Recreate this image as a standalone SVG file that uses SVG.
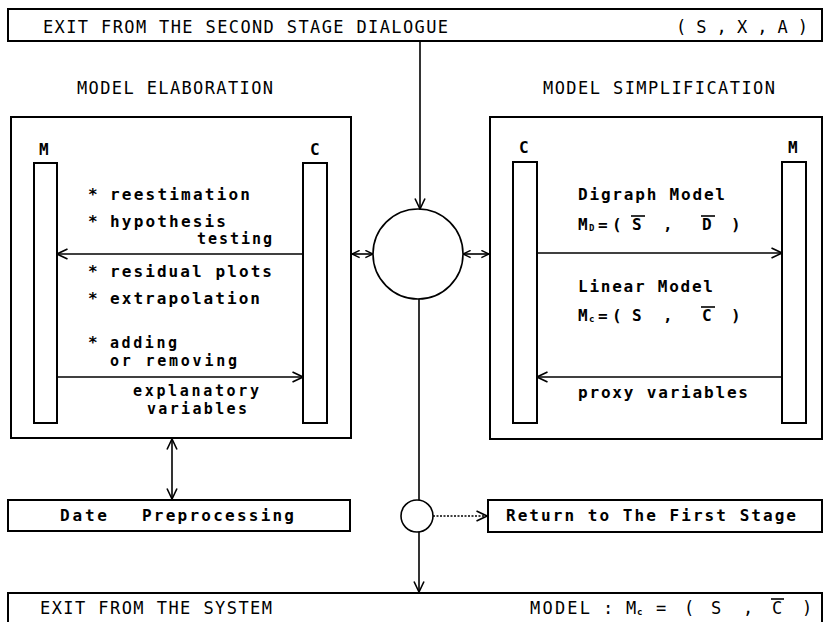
<svg xmlns="http://www.w3.org/2000/svg" width="827" height="622" viewBox="0 0 827 622">
<defs>
<style>
.box{fill:#fff;stroke:#000;stroke-width:2}
.bar{fill:#fff;stroke:#000;stroke-width:2}
.ln{fill:none;stroke:#000;stroke-width:1.6}
.t{font-family:"DejaVu Sans Mono","Liberation Mono",monospace;font-size:17px;fill:#000}
.b{font-family:"DejaVu Sans Mono","Liberation Mono",monospace;font-size:16px;font-weight:bold;fill:#000}
.bs{font-family:"DejaVu Sans Mono","Liberation Mono",monospace;font-size:15px;font-weight:bold;fill:#000}
.s{font-family:"DejaVu Sans Mono","Liberation Mono",monospace;font-size:9px;font-weight:bold;fill:#000}
.ov{stroke:#000;stroke-width:1.6}
</style>
<marker id="ah" viewBox="0 0 12 12" refX="11.5" refY="6" markerWidth="12" markerHeight="12" markerUnits="userSpaceOnUse" orient="auto-start-reverse">
<path d="M1,1 L11.5,6 L1,11" fill="none" stroke="#000" stroke-width="1.6"/>
</marker>
<marker id="as" viewBox="0 0 10 10" refX="9.5" refY="5" markerWidth="9" markerHeight="9" markerUnits="userSpaceOnUse" orient="auto-start-reverse">
<path d="M1,1 L9.5,5 L1,9" fill="none" stroke="#000" stroke-width="1.6"/>
</marker>
</defs>
<rect width="827" height="622" fill="#fff"/>

<g id="top">
<rect class="box" x="8" y="9" width="814" height="32"/>
<text class="t" x="43" y="33" textLength="405" lengthAdjust="spacing">EXIT FROM THE SECOND STAGE DIALOGUE</text>
<text class="t" x="676" y="33" textLength="132" lengthAdjust="spacing">( S , X , A )</text>
</g>

<g id="headers">
<text class="t" x="77" y="94" textLength="196" lengthAdjust="spacing">MODEL ELABORATION</text>
<text class="t" x="543" y="94" textLength="232" lengthAdjust="spacing">MODEL SIMPLIFICATION</text>
</g>

<g id="elaboration">
<rect class="box" x="11" y="117" width="340" height="321"/>
<rect class="bar" x="34" y="163" width="23" height="260"/>
<rect class="bar" x="303" y="163" width="24" height="260"/>
<text class="b" x="39" y="155" font-size="15">M</text>
<text class="b" x="310" y="155" font-size="15">C</text>
<text class="b" x="88" y="200">*</text><text class="b" x="110" y="200" textLength="140" lengthAdjust="spacing">reestimation</text>
<text class="b" x="88" y="227">*</text><text class="b" x="110" y="227" textLength="116" lengthAdjust="spacing">hypothesis</text>
<text class="bs" x="197" y="244" textLength="75" lengthAdjust="spacing">testing</text>
<text class="b" x="88" y="277">*</text><text class="b" x="110" y="277" textLength="162" lengthAdjust="spacing">residual plots</text>
<text class="b" x="88" y="304">*</text><text class="b" x="110" y="304" textLength="150" lengthAdjust="spacing">extrapolation</text>
<text class="b" x="88" y="348">*</text><text class="bs" x="110" y="348" textLength="67" lengthAdjust="spacing">adding</text>
<text class="bs" x="110" y="366" textLength="127" lengthAdjust="spacing">or removing</text>
<text class="bs" x="133" y="396" textLength="126" lengthAdjust="spacing">explanatory</text>
<text class="bs" x="147" y="414" textLength="100" lengthAdjust="spacing">variables</text>
</g>

<g id="simplification">
<rect class="box" x="490" y="117" width="332" height="322"/>
<rect class="bar" x="513" y="162" width="24" height="261"/>
<rect class="bar" x="782" y="162" width="24" height="261"/>
<text class="b" x="519" y="153" font-size="15">C</text>
<text class="b" x="788" y="153" font-size="15">M</text>
<text class="b" x="578" y="200" textLength="147" lengthAdjust="spacing">Digraph Model</text>
<text class="b" x="578" y="230">M</text><text class="s" x="589" y="231">D</text>
<text class="b" x="598" y="230">=</text><text class="b" x="612" y="230">(</text>
<text class="b" x="632" y="230">S</text><text class="b" x="663" y="230">,</text>
<text class="b" x="702" y="230">D</text><text class="b" x="731" y="230">)</text>
<line class="ov" x1="631" y1="216" x2="645" y2="216"/>
<line class="ov" x1="701" y1="216" x2="715" y2="216"/>
<text class="b" x="578" y="292" textLength="135" lengthAdjust="spacing">Linear Model</text>
<text class="b" x="578" y="321">M</text><text class="s" x="589" y="322">c</text>
<text class="b" x="598" y="321">=</text><text class="b" x="612" y="321">(</text>
<text class="b" x="632" y="321">S</text><text class="b" x="663" y="321">,</text>
<text class="b" x="702" y="321">C</text><text class="b" x="731" y="321">)</text>
<line class="ov" x1="701" y1="307" x2="715" y2="307"/>
<text class="b" x="578" y="398" textLength="170" lengthAdjust="spacing">proxy variables</text>
</g>

<g id="decision">
<circle class="ln" cx="418" cy="254" r="45" stroke-width="2"/>
</g>

<g id="branch">
<circle class="ln" cx="417" cy="516" r="16" stroke-width="2"/>
</g>

<g id="preprocessing">
<rect class="box" x="8" y="500" width="342" height="31"/>
<text class="b" x="60" y="521" textLength="47" lengthAdjust="spacing">Date</text>
<text class="b" x="142" y="521" textLength="152" lengthAdjust="spacing">Preprocessing</text>
</g>

<g id="return">
<rect class="box" x="488" y="500" width="334" height="32"/>
<text class="b" x="506" y="521" textLength="290" lengthAdjust="spacing">Return to The First Stage</text>
</g>

<g id="exit">
<rect class="box" x="8" y="593" width="814" height="40"/>
<text class="t" x="40" y="614" textLength="232" lengthAdjust="spacing">EXIT FROM THE SYSTEM</text>
<text class="t" x="530" y="614" textLength="60" lengthAdjust="spacing">MODEL</text>
<text class="t" x="603" y="614">:</text>
<text class="t" x="626" y="614">M</text><text class="s" x="637" y="615">c</text>
<text class="t" x="656" y="614">=</text>
<text class="t" x="684" y="614">(</text>
<text class="t" x="711" y="614">S</text>
<text class="t" x="743" y="614">,</text>
<text class="t" x="772" y="614">C</text>
<text class="t" x="802" y="614">)</text>
<line class="ov" x1="771" y1="599" x2="784" y2="599"/>
</g>

<g id="connectors">
<line class="ln" x1="420" y1="41" x2="420" y2="209" marker-end="url(#ah)"/>
<line class="ln" x1="352" y1="254" x2="373" y2="254" marker-start="url(#as)" marker-end="url(#as)"/>
<line class="ln" x1="463" y1="254" x2="489" y2="254" marker-start="url(#as)" marker-end="url(#as)"/>
<line class="ln" x1="303" y1="254" x2="57" y2="254" stroke-width="2" marker-end="url(#ah)"/>
<line class="ln" x1="57" y1="377" x2="303" y2="377" stroke-width="2" marker-end="url(#ah)"/>
<line class="ln" x1="537" y1="253" x2="782" y2="253" stroke-width="2" marker-end="url(#ah)"/>
<line class="ln" x1="782" y1="377" x2="537" y2="377" stroke-width="2" marker-end="url(#ah)"/>
<line class="ln" x1="172" y1="439" x2="172" y2="499" marker-start="url(#ah)" marker-end="url(#ah)"/>
<line class="ln" x1="419" y1="299" x2="419" y2="500"/>
<line class="ln" x1="419" y1="532" x2="419" y2="592" marker-end="url(#ah)"/>
<line class="ln" x1="433" y1="516" x2="487" y2="516" stroke-dasharray="2,1.5" marker-end="url(#ah)"/>
</g>
</svg>
